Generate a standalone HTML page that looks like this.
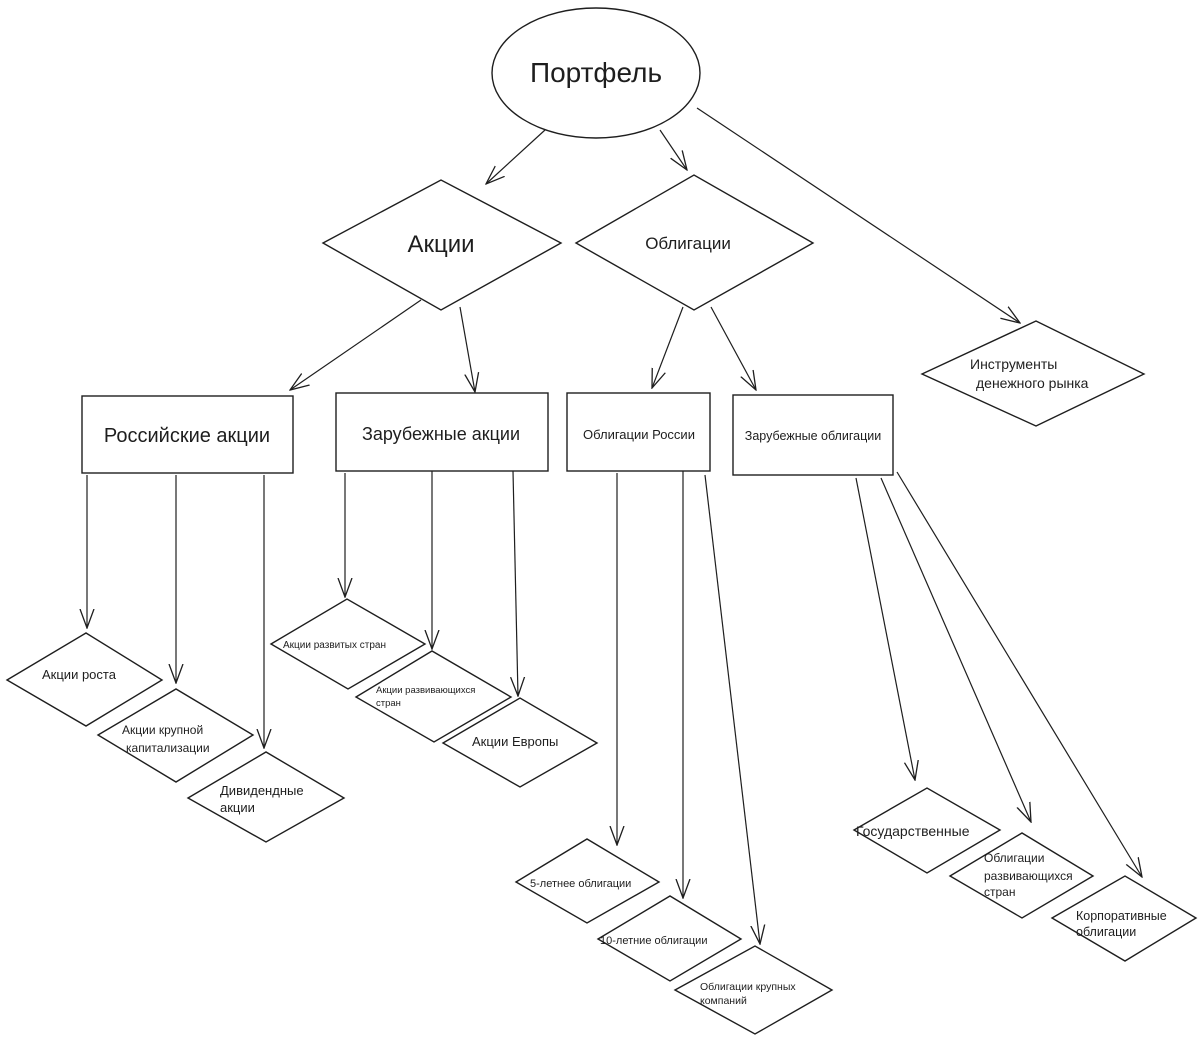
<!DOCTYPE html>
<html><head><meta charset="utf-8"><style>
html,body{margin:0;padding:0;background:#fff;}
svg{display:block}
text{font-family:"Liberation Sans",sans-serif;fill:#1e1e1e}
</style></head><body>
<svg width="1200" height="1041" viewBox="0 0 1200 1041" xmlns="http://www.w3.org/2000/svg">
<defs>
<marker id="a" viewBox="0 0 20 20" refX="19" refY="10" markerWidth="20" markerHeight="20" markerUnits="userSpaceOnUse" orient="auto">
<path d="M0,3 L19,10 L0,17" fill="none" stroke="#1e1e1e" stroke-width="1.3"/>
</marker>
</defs>
<g fill="none" stroke="#1e1e1e" stroke-width="1.4">
<ellipse cx="596" cy="73" rx="104" ry="65"/>
<polygon points="323,243 441,180 561,243 441,310"/>
<polygon points="576,243 694,175 813,243 694,310"/>
<polygon points="922,374 1036,321 1144,374 1036,426"/>
<rect x="82" y="396" width="211" height="77"/>
<rect x="336" y="393" width="212" height="78"/>
<rect x="567" y="393" width="143" height="78"/>
<rect x="733" y="395" width="160" height="80"/>
<polygon points="7,680 86,633 162,680 86,726"/>
<polygon points="98,735 176,689 253,735 176,782"/>
<polygon points="188,798 266,752 344,798 266,842"/>
<polygon points="271,644 347,599 425,644 348,689"/>
<polygon points="356,697 432,651 511,697 434,742"/>
<polygon points="443,743 520,698 597,743 520,787"/>
<polygon points="516,882 587,839 659,882 587,923"/>
<polygon points="598,939 670,896 741,939 670,981"/>
<polygon points="675,990 755,946 832,990 755,1034"/>
<polygon points="854,830 927,788 1000,830 927,873"/>
<polygon points="950,876 1022,833 1093,876 1022,918"/>
<polygon points="1052,918 1125,876 1196,918 1125,961"/>
</g>
<g stroke="#1e1e1e" stroke-width="1.2" fill="none" marker-end="url(#a)">
<line x1="545" y1="130" x2="486" y2="184"/>
<line x1="660" y1="130" x2="687" y2="170"/>
<line x1="697" y1="108" x2="1020" y2="323"/>
<line x1="421" y1="300" x2="290" y2="390"/>
<line x1="460" y1="307" x2="475" y2="392"/>
<line x1="683" y1="307" x2="652" y2="388"/>
<line x1="711" y1="307" x2="756" y2="390"/>
<line x1="87" y1="475" x2="87" y2="628"/>
<line x1="176" y1="475" x2="176" y2="683"/>
<line x1="264" y1="475" x2="264" y2="748"/>
<line x1="345" y1="473" x2="345" y2="597"/>
<line x1="432" y1="471" x2="432" y2="649"/>
<line x1="513" y1="471" x2="518" y2="696"/>
<line x1="617" y1="473" x2="617" y2="845"/>
<line x1="683" y1="471" x2="683" y2="898"/>
<line x1="705" y1="475" x2="760" y2="944"/>
<line x1="856" y1="478" x2="915" y2="780"/>
<line x1="881" y1="478" x2="1031" y2="822"/>
<line x1="897" y1="472" x2="1142" y2="877"/>
</g>
<text x="596" y="82" font-size="28" text-anchor="middle">Портфель</text>
<text x="441" y="252" font-size="24" text-anchor="middle">Акции</text>
<text x="688" y="249" font-size="17" text-anchor="middle">Облигации</text>
<text x="970" y="369" font-size="14">Инструменты</text>
<text x="976" y="388" font-size="14">денежного рынка</text>
<text x="187" y="442" font-size="20" text-anchor="middle">Российские акции</text>
<text x="441" y="440" font-size="18" text-anchor="middle">Зарубежные акции</text>
<text x="639" y="439" font-size="13" text-anchor="middle">Облигации России</text>
<text x="813" y="440" font-size="12.5" text-anchor="middle">Зарубежные облигации</text>
<text x="42" y="679" font-size="13">Акции роста</text>
<text x="122" y="734" font-size="12">Акции крупной</text>
<text x="126" y="752" font-size="12">капитализации</text>
<text x="220" y="795" font-size="13">Дивидендные</text>
<text x="220" y="812" font-size="13">акции</text>
<text x="283" y="648" font-size="10">Акции развитых стран</text>
<text x="376" y="693" font-size="9.5">Акции развивающихся</text>
<text x="376" y="706" font-size="9.5">стран</text>
<text x="472" y="746" font-size="13">Акции Европы</text>
<text x="530" y="887" font-size="11">5-летнее облигации</text>
<text x="600" y="944" font-size="11">10-летние облигации</text>
<text x="700" y="990" font-size="10.5">Облигации крупных</text>
<text x="700" y="1004" font-size="10.5">компаний</text>
<text x="856" y="836" font-size="14">Государственные</text>
<text x="984" y="862" font-size="12">Облигации</text>
<text x="984" y="880" font-size="12">развивающихся</text>
<text x="984" y="896" font-size="12">стран</text>
<text x="1076" y="920" font-size="12.5">Корпоративные</text>
<text x="1076" y="936" font-size="12.5">облигации</text>
</svg>
</body></html>
